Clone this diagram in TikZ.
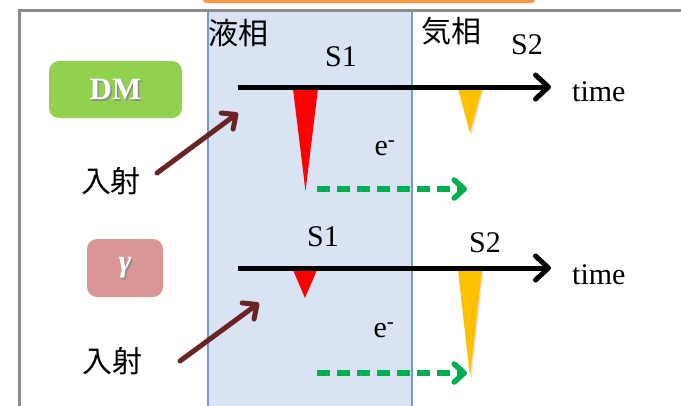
\documentclass[tikz,border=0pt]{standalone}
\usepackage{fontspec}
\setmainfont{Liberation Serif}
\newfontfamily\jp{Noto Sans CJK JP}
\usetikzlibrary{arrows.meta}
\definecolor{phaseblue}{HTML}{DAE3F3}
\definecolor{phaseedge}{HTML}{6F9BD1}
\definecolor{framegray}{HTML}{8C8C8C}
\definecolor{barorange}{HTML}{F79646}
\definecolor{dmgreen}{HTML}{92D050}
\definecolor{gampink}{HTML}{D99694}
\definecolor{incident}{HTML}{6B2424}
\definecolor{sgyellow}{HTML}{FFC000}
\definecolor{driftgreen}{HTML}{00B050}
\begin{document}
\begin{tikzpicture}[x=1pt,y=-1pt,
  lbl/.style={font=\fontsize{30}{30}\selectfont, inner sep=0pt},
  jlbl/.style={font=\jp\fontsize{30}{30}\selectfont, inner sep=0pt},
  boxlbl/.style={font=\bfseries\fontsize{31}{31}\selectfont, inner sep=0pt},
  particle/.style={rounded corners=10pt, inner sep=0pt},
  timeaxis/.style={line width=5pt, -{Straight Barb[length=13pt,width=24pt,round]}},
  incoming/.style={incident, line width=5pt, line cap=round, -{Straight Barb[length=11pt,width=20pt,round]}},
  drift/.style={driftgreen, line width=5.5pt, dash pattern=on 13pt off 7pt, -{Straight Barb[length=10pt,width=18pt,round]}},
  spikeshade/.style={black!12}
]
\useasboundingbox (0,0) rectangle (681,405);

% liquid phase region
\fill[phaseblue] (208,11) rectangle (412,406);
\draw[phaseedge, line width=1.5pt] (208,406) -- (208,11) -- (412,11) -- (412,406);

% frame and title bar
\draw[framegray, line width=3pt] (19,406) -- (19,10) -- (682,10);
\fill[barorange, rounded corners=3pt] (203,-6) rectangle (535,3);

% phase labels
\node[jlbl] (liq) at (238,33) {液相};
\node[jlbl] (gas) at (451,31) {気相};

% ---------- DM event ----------
\node[particle, fill=dmgreen, minimum width=133pt, minimum height=57pt] (dm) at (115.5,89.5) {};
\node[boxlbl, text=black!45] at ([shift={(1.5,1.5)}]dm.center) {DM};
\node[boxlbl, text=white] (dmtxt) at (dm.center) {DM};

\coordinate (ax1s) at (238,87);
\coordinate (ax1e) at (551,87);
\fill[red] (293,89) -- (318,89) -- (305.5,191) -- cycle;
\fill[spikeshade] (459.5,90) -- (483.5,90) -- (471.5,135) -- cycle;
\fill[sgyellow] (458,89) -- (482,89) -- (470,133) -- cycle;
\draw[timeaxis] (ax1s) -- (ax1e);
\node[lbl, anchor=west] (time1) at (572,92) {time};
\node[lbl] (s1a) at (341,57) {S1};
\node[lbl] (s2a) at (527,45) {S2};
\node[lbl] (e1) at (385,148) {e\textsuperscript{-}};

\node[jlbl] (in1) at (111,181) {入射};
\coordinate (in1s) at (157,173);
\coordinate (in1e) at (238,113);
\draw[incoming] (in1s) -- (in1e);

\coordinate (dr1s) at (317,189);
\coordinate (dr1e) at (467,189);
\draw[drift] (dr1s) -- (dr1e);

% ---------- gamma event ----------
\node[particle, fill=gampink, minimum width=76pt, minimum height=58pt] (gm) at (125,268) {};
\node[boxlbl, text=black!45] at ([shift={(1.5,1.5)}]gm.center) {\itshape γ};
\node[boxlbl, text=white] (gmtxt) at (gm.center) {\itshape γ};

\coordinate (ax2s) at (238,268);
\coordinate (ax2e) at (551,268);
\fill[red] (293,270) -- (317,270) -- (305,298) -- cycle;
\fill[spikeshade] (459.5,271) -- (483.5,271) -- (471.5,379) -- cycle;
\fill[sgyellow] (458,270) -- (482,270) -- (470,377) -- cycle;
\draw[timeaxis] (ax2s) -- (ax2e);
\node[lbl, anchor=west] (time2) at (572,275) {time};
\node[lbl] (s1b) at (323,237) {S1};
\node[lbl] (s2b) at (485,243) {S2};
\node[lbl] (e2) at (384,330) {e\textsuperscript{-}};

\node[jlbl] (in2) at (112,361) {入射};
\coordinate (in2s) at (180,361);
\coordinate (in2e) at (259,303);
\draw[incoming] (in2s) -- (in2e);

\coordinate (dr2s) at (317,373);
\coordinate (dr2e) at (467,373);
\draw[drift] (dr2s) -- (dr2e);
\end{tikzpicture}
\end{document}
